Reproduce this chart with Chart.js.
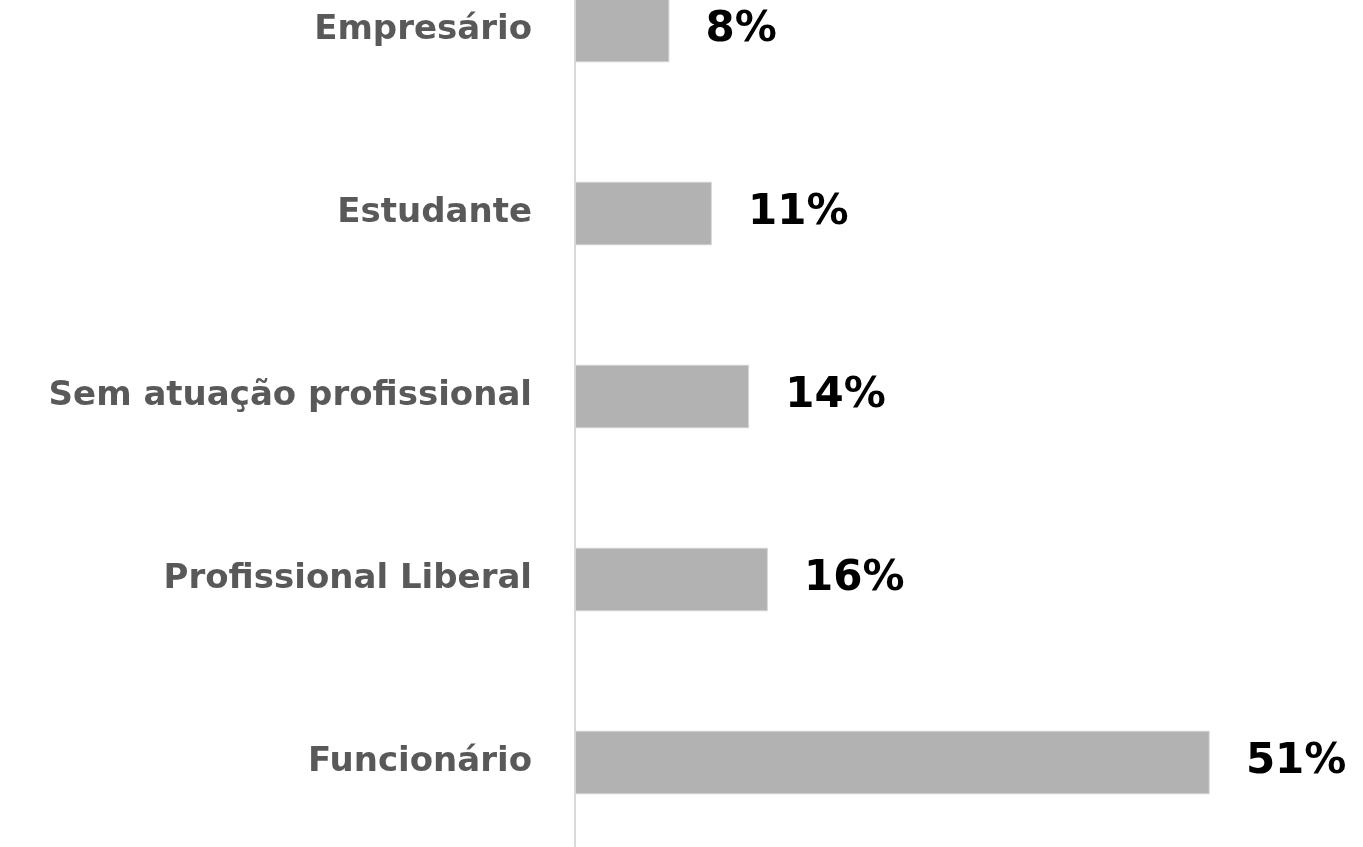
<!DOCTYPE html>
<html>
<head>
<meta charset="utf-8">
<script src="https://cdn.jsdelivr.net/npm/chart.js@4.4.1/dist/chart.umd.min.js"></script>
<style>
  html, body { margin: 0; padding: 0; background: #fff; overflow: hidden; width: 1363px; height: 847px; }
  #c { position: absolute; left: 0; top: -61px; }
</style>
</head>
<body>
<canvas id="c" width="1363" height="915"></canvas>
<script>
const categories = ["Empresário", "Estudante", "Sem atuação profissional", "Profissional Liberal", "Funcionário"];
const values = [7.6, 11, 14, 15.5, 51];
const valueLabels = ["8%", "11%", "14%", "16%", "51%"];

const FONT = "'DejaVu Sans', sans-serif";

const labelPlugin = {
  id: 'valueLabels',
  afterDatasetsDraw(chart) {
    const ctx = chart.ctx;
    const meta = chart.getDatasetMeta(0);
    ctx.save();
    ctx.fillStyle = '#000000';
    ctx.font = "bold 42px " + FONT;
    ctx.textAlign = 'left';
    ctx.textBaseline = 'middle';
    meta.data.forEach((bar, i) => {
      ctx.fillText(valueLabels[i], bar.x + 36, bar.y);
    });
    ctx.restore();
  }
};

new Chart(document.getElementById('c'), {
  type: 'bar',
  data: {
    labels: categories,
    datasets: [{
      data: values,
      backgroundColor: '#b2b2b2',
      borderColor: '#d6d6d6',
      borderWidth: 1,
      borderSkipped: false,
      categoryPercentage: 1,
      barPercentage: 0.35
    }]
  },
  options: {
    indexAxis: 'y',
    responsive: false,
    maintainAspectRatio: false,
    animation: false,
    layout: { padding: 0, autoPadding: false },
    plugins: { legend: { display: false }, tooltip: { enabled: false } },
    scales: {
      x: { display: false, min: 0, max: 63.3 },
      y: {
        grid: { display: false, drawTicks: false },
        border: { display: true, color: '#d9d9d9', width: 2 },
        ticks: {
          color: '#595959',
          padding: 43,
          font: { family: FONT, size: 34, weight: 'bold' }
        },
        afterFit(scale) {
          scale.width = 575;
          scale.paddingTop = 0;
          scale.paddingBottom = 0;
        }
      }
    }
  },
  plugins: [labelPlugin]
});
</script>
</body>
</html>
